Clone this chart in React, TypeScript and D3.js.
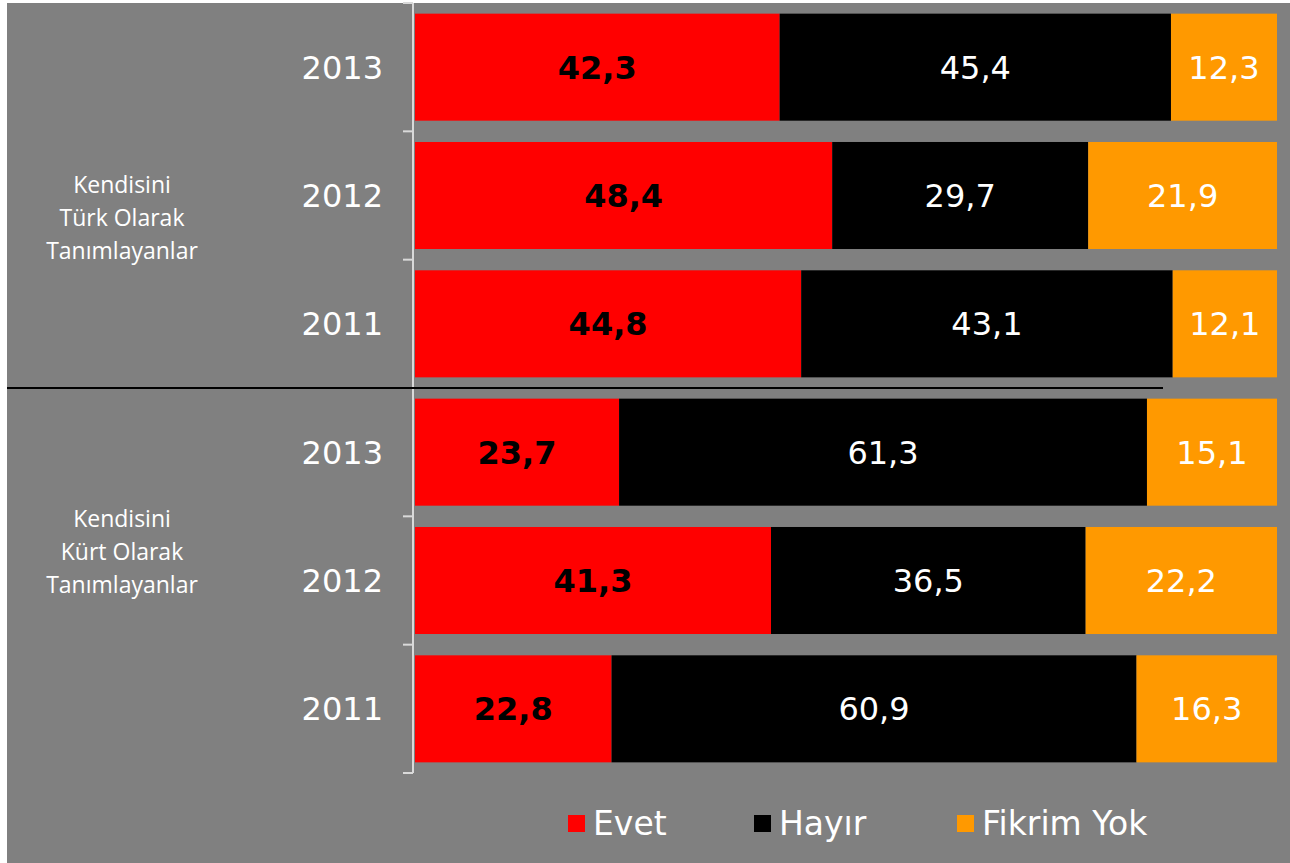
import React from "react";
import * as d3 from "d3";

const groupLabels = [
  ["Kendisini", "Türk Olarak", "Tanımlayanlar"],
  ["Kendisini", "Kürt Olarak", "Tanımlayanlar"],
];
const years = ["2013", "2012", "2011", "2013", "2012", "2011"];
const evet = [42.3, 48.4, 44.8, 23.7, 41.3, 22.8];
const hayir = [45.4, 29.7, 43.1, 61.3, 36.5, 60.9];
const fikrim = [12.3, 21.9, 12.1, 15.1, 22.2, 16.3];
const seriesNames = ["Evet", "Hayır", "Fikrim Yok"];
const seriesColors = ["#ff0000", "#000000", "#ff9900"];

const W = 1290;
const H = 863;
const FONT = "Verdana, 'DejaVu Sans', sans-serif";

export default function App() {
  const rows = years.map((y, i) => ({
    i: String(i),
    year: y,
    Evet: evet[i],
    "Hayır": hayir[i],
    "Fikrim Yok": fikrim[i],
  }));
  const stack = d3.stack<any>().keys(seriesNames).offset(d3.stackOffsetExpand);
  const stacked = stack(rows);

  const x = d3.scaleLinear().domain([0, 1]).range([415, 1277]);
  const y = d3
    .scaleBand<string>()
    .domain(rows.map((r) => r.i))
    .range([3, 773])
    .paddingInner(0.166)
    .paddingOuter(0.083);
  const step = y.step();
  const axisX = 413;

  const groupCenters = [y("1")! + y.bandwidth() / 2 + 22, y("4")! + y.bandwidth() / 2 - 29];

  return (
    <svg
      width={W}
      height={H}
      style={{ position: "absolute", left: 0, top: 0 }}
    >
      <rect x={7} y={3} width={W - 7} height={H - 3} fill="#808080" />
      {stacked.map((s, si) =>
        s.map((d, di) => {
          const x0 = x(d[0]);
          const x1 = x(d[1]);
          const vals = [evet, hayir, fikrim][si];
          const cy = y(String(di))! + y.bandwidth() / 2;
          return (
            <g key={`${si}-${di}`}>
              <rect
                x={x0}
                y={y(String(di))}
                width={x1 - x0}
                height={y.bandwidth()}
                fill={seriesColors[si]}
              />
              <text
                x={(x0 + x1) / 2}
                y={cy}
                dy="0.36em"
                textAnchor="middle"
                fontFamily={FONT}
                fontSize={32}
                fontWeight={si === 0 ? "bold" : "normal"}
                fill={si === 0 ? "#000" : "#fff"}
              >
                {vals[di].toFixed(1).replace(".", ",")}
              </text>
            </g>
          );
        })
      )}
      {/* axis */}
      <line x1={axisX} x2={axisX} y1={3} y2={773} stroke="#d9d9d9" strokeWidth={2} />
      {d3.range(years.length + 1).map((k) => {
        const ty = 3 + k * step;
        return (
          <line
            key={k}
            x1={403}
            x2={axisX}
            y1={ty}
            y2={ty}
            stroke="#d9d9d9"
            strokeWidth={2}
          />
        );
      })}
      {rows.map((r) => (
        <text
          key={r.i}
          x={383}
          y={y(r.i)! + y.bandwidth() / 2}
          dy="0.36em"
          textAnchor="end"
          fontFamily={FONT}
          fontSize={32}
          fill="#fff"
        >
          {r.year}
        </text>
      ))}
      {/* group separator */}
      <line x1={7} x2={1163} y1={3 + 3 * step} y2={3 + 3 * step} stroke="#000" strokeWidth={2} />
      {groupLabels.map((lines, gi) => (
        <text
          key={gi}
          textAnchor="middle"
          fontFamily="'Open Sans', sans-serif"
          fontSize={23}
          fill="#fff"
        >
          {lines.map((l, li) => (
            <tspan key={li} x={122} y={groupCenters[gi] + (li - 1) * 33} dy="0.35em">
              {l}
            </tspan>
          ))}
        </text>
      ))}
      {/* legend */}
      {seriesNames.map((n, i) => {
        const lx = [568, 754, 957][i];
        return (
          <g key={n}>
            <rect x={lx} y={815} width={17} height={17} fill={seriesColors[i]} />
            <text
              x={lx + 25}
              y={823}
              dy="0.36em"
              fontFamily={FONT}
              fontSize={33}
              fill="#fff"
            >
              {n}
            </text>
          </g>
        );
      })}
    </svg>
  );
}
